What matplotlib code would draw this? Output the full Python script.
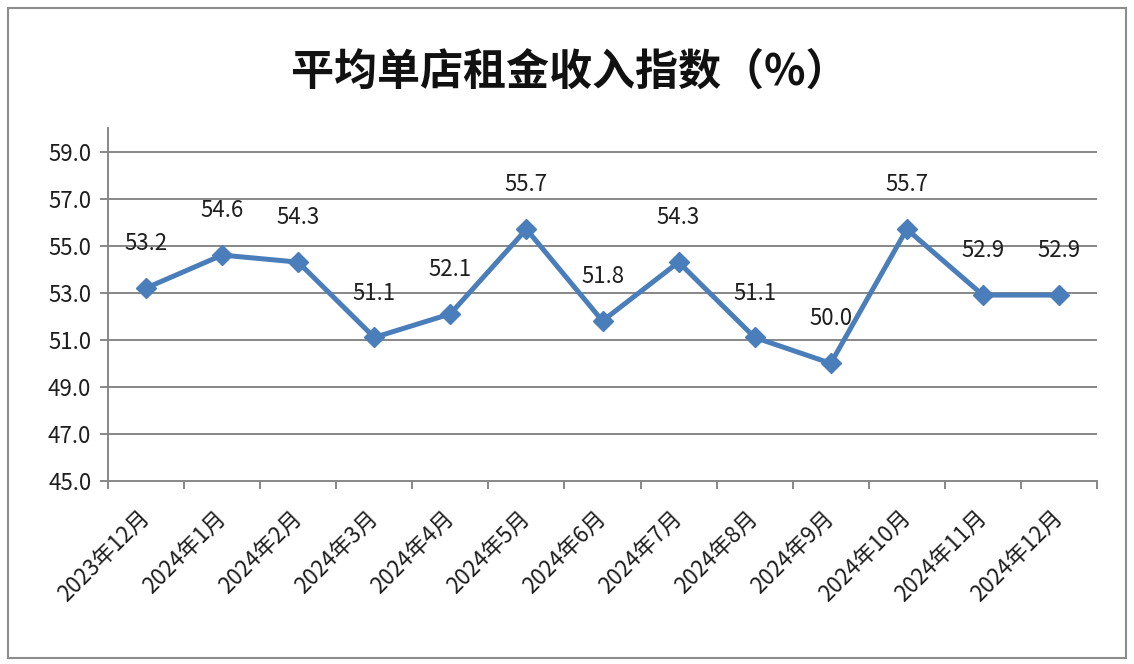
import matplotlib
matplotlib.use("Agg")
import matplotlib.pyplot as plt
from matplotlib.patches import Rectangle

plt.rcParams['font.family'] = ['Noto Sans CJK SC', 'DejaVu Sans']

months = ["2023年12月", "2024年1月", "2024年2月", "2024年3月", "2024年4月",
          "2024年5月", "2024年6月", "2024年7月", "2024年8月", "2024年9月",
          "2024年10月", "2024年11月", "2024年12月"]
values = [53.2, 54.6, 54.3, 51.1, 52.1, 55.7, 51.8, 54.3, 51.1, 50.0, 55.7, 52.9, 52.9]
yticks = [45.0, 47.0, 49.0, 51.0, 53.0, 55.0, 57.0, 59.0]

blue = "#4A7EBB"
grid_c = "#878787"
txt_c = "#1E1E1E"

fig = plt.figure(figsize=(11.34, 6.64), dpi=100)
ax = fig.add_axes([108 / 1134, 1 - 481 / 664, (1097 - 108) / 1134, (481 - 128) / 664])

x = list(range(len(values)))
ax.plot(x, values, color=blue, lw=3.6, marker="D", markersize=10,
        markerfacecolor=blue, markeredgecolor=blue, zorder=3)

for xi, v in zip(x, values):
    ax.annotate(f"{v:.1f}", (xi, v), xytext=(0, 32), textcoords="offset points",
                ha="center", va="center", fontsize=16, color=txt_c)

ax.set_xlim(-0.5, len(values) - 0.5)
ax.set_ylim(45, 60)
ax.set_yticks(yticks)
ax.set_yticklabels([f"{t:.1f}" for t in yticks], fontsize=16, color=txt_c)
for t in yticks[1:]:
    ax.axhline(t, color=grid_c, lw=1.4, zorder=1)

ax.set_xticks(x)
ax.set_xticklabels(months, rotation=45, ha="right", va="center",
                   rotation_mode="anchor", fontsize=16, color=txt_c)
ax.tick_params(axis="x", which="major", length=0, pad=24)
ax.set_xticks([i - 0.5 for i in range(len(values) + 1)], minor=True)
ax.tick_params(axis="x", which="minor", length=6, width=1.4, color=grid_c, direction="out")
ax.tick_params(axis="y", length=6, width=1.4, color=grid_c, pad=6)

for s in ["top", "right"]:
    ax.spines[s].set_visible(False)
for s in ["left", "bottom"]:
    ax.spines[s].set_color(grid_c)
    ax.spines[s].set_linewidth(1.4)

fig.text(570 / 1134, 1 - 72 / 664, "平均单店租金收入指数（%）", ha="center", va="center",
         fontsize=31, fontweight="bold", color="#111111")

fig.patches.append(Rectangle((8 / 1134, 1 - 658 / 664), (1126 - 8) / 1134, (658 - 8) / 664,
                             transform=fig.transFigure, fill=False, edgecolor="#8C8C8C", lw=1.5))

fig.savefig("out.png", dpi=100, facecolor="white")
